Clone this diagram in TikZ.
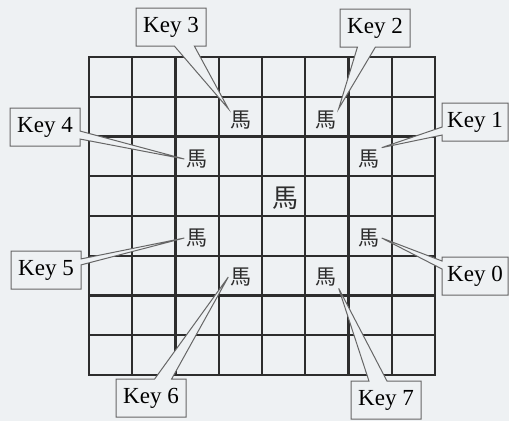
\documentclass[tikz,border=0pt]{standalone}
\usepackage{fontspec}
\setmainfont{Liberation Serif}
\newfontfamily\cjk{Noto Sans CJK TC}
\usepackage{tikz}
\usetikzlibrary{shapes.callouts}
\definecolor{paper}{RGB}{238,241,243}
\definecolor{ink}{RGB}{45,45,45}

\begin{document}
\begin{tikzpicture}[x=1pt,y=-1pt,
  board/.style={line width=2.2pt,draw=ink},
  horse/.style={inner sep=2pt,text=ink,font=\cjk\fontsize{21}{21}\selectfont},
  bighorse/.style={inner sep=2pt,text=ink,font=\cjk\fontsize{26}{26}\selectfont},
  keybox/.style={rectangle callout,draw=black!60,fill=paper,line width=1pt,
    minimum width=70pt,minimum height=38pt,inner sep=1pt,
    font=\fontsize{23}{23}\selectfont,callout pointer width=8pt}]
 \fill[paper] (0,0) rectangle (509,421);
 \useasboundingbox (0,0) rectangle (509,421);
 % board
 \draw[board] (89,57) rectangle (435,375);
 \foreach \i in {1,...,7} {
   \draw[board] ({89+43.25*\i},57) -- ({89+43.25*\i},375);
   \draw[board] (89,{57+39.75*\i}) -- (435,{57+39.75*\i});
 }
 % knights
 \node[bighorse] (hc) at (285,198) {馬};
 \node[horse] (h0) at (369,238) {馬};
 \node[horse] (h1) at (369,159) {馬};
 \node[horse] (h2) at (326,120) {馬};
 \node[horse] (h3) at (241,120) {馬};
 \node[horse] (h4) at (197,159) {馬};
 \node[horse] (h5) at (197,238) {馬};
 \node[horse] (h6) at (241,277) {馬};
 \node[horse] (h7) at (326,277) {馬};
 % keys
 \node[keybox,minimum width=66pt,callout absolute pointer=(h0.east)] (k0) at (475,276) {Key 0};
 \node[keybox,minimum width=66pt,callout absolute pointer=(h1.north east)] (k1) at (475,122) {Key 1};
 \node[keybox,callout pointer width=18pt,callout absolute pointer=(h2.north east)] (k2) at (375,28) {Key 2};
 \node[keybox,callout pointer width=20pt,callout absolute pointer=(h3.north west)] (k3) at (171,27) {Key 3};
 \node[keybox,callout absolute pointer=(h4.west)] (k4) at (45,127) {Key 4};
 \node[keybox,callout pointer width=6pt,callout absolute pointer=(h5.west)] (k5) at (46,270) {Key 5};
 \node[keybox,callout pointer width=17pt,callout absolute pointer=(h6.west)] (k6) at (151,398) {Key 6};
 \node[keybox,callout pointer width=18pt,callout absolute pointer=(h7.south east)] (k7) at (386,400) {Key 7};
\end{tikzpicture}
\end{document}
